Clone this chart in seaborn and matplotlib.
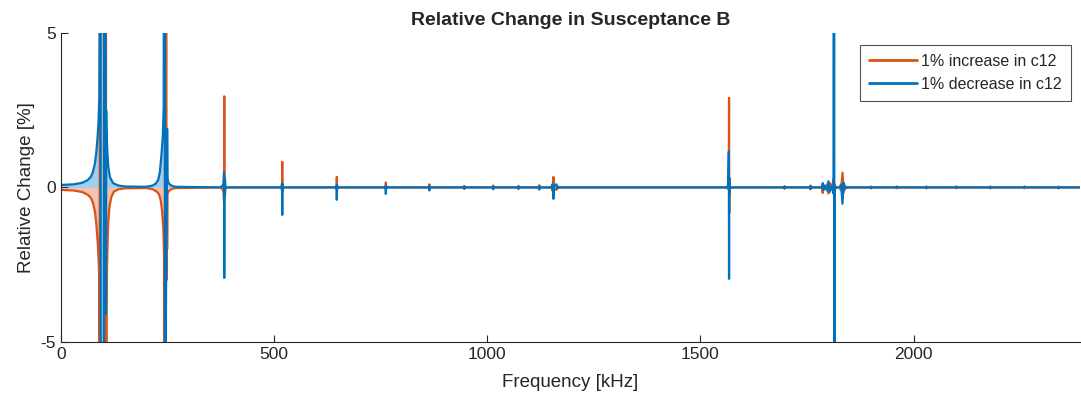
import numpy as np
import pandas as pd
import matplotlib
matplotlib.use("Agg")
import matplotlib.pyplot as plt
import seaborn as sns

# Relative change of susceptance B [%] versus frequency [kHz]
# 1% increase in c12
inc_freq = [0, 30, 50, 63, 70, 75, 80, 83, 86, 88.5, 89.5, 90.2, 90.8, 91.1, 93, 96, 98.5, 105.5, 105.8, 107, 108, 109.5,
            111, 114, 118, 124, 135, 150,
            200, 215, 225, 230, 234, 237, 240, 242, 243.8, 244.2, 246.5, 247.5, 248.5, 249, 250, 253, 256, 262, 270,
            375, 381, 382.5, 383, 383.5, 384.5, 386,
            517, 518.5, 519, 519.5, 521,
            645, 646.5, 647, 647.5, 649,
            760, 761.5, 762, 762.5, 764,
            862, 863.5, 864, 864.5, 866,
            944, 945.5, 946, 946.5, 948,
            1012, 1013.5, 1014, 1014.5, 1016,
            1071, 1072.5, 1073, 1073.5, 1075,
            1120, 1121.5, 1122, 1122.5, 1124,
            1150, 1153, 1155, 1157, 1162, 1165, 1168,
            1560, 1565, 1566.5, 1567, 1567.5, 1568, 1568.5, 1570, 1575,
            1695, 1696.5, 1697, 1697.5, 1699,
            1756, 1757.5, 1758, 1758.5, 1760,
            1784, 1787, 1789, 1792, 1797, 1800, 1803, 1808, 1812, 1813, 1814, 1815, 1817,
            1826, 1830, 1833, 1836, 1840, 1845,
            1898, 1900, 1902, 1958, 1960, 1962, 2028, 2030, 2032, 2098, 2100, 2102,
            2178, 2180, 2182, 2258, 2260, 2262, 2338, 2340, 2342, 2390]
inc_val = [-0.08, -0.1, -0.15, -0.24, -0.34, -0.5, -0.8, -1.2, -1.75, -2.4, -2.8, -8, -60, 60, 8, 5.5, 8, 60, -60, -4, -2.6, -1.7,
           -1.1, -0.6, -0.32, -0.14, -0.06, -0.03,
           -0.02, -0.06, -0.14, -0.22, -0.42, -0.75, -1.3, -2.3, -60, 60, 60, -3, -0.5, -2.0, -0.2, -0.12, -0.08, -0.04, -0.02,
           0, -0.1, -0.46, 2.95, 0.2, -0.3, 0,
           0, -0.1, 0.83, -0.15, 0,
           0, -0.06, 0.34, -0.08, 0,
           0, -0.04, 0.16, -0.05, 0,
           0, -0.03, 0.1, -0.03, 0,
           0, -0.02, 0.05, -0.02, 0,
           0, -0.02, 0.06, -0.02, 0,
           0, -0.02, 0.05, -0.02, 0,
           0, -0.03, 0.07, -0.03, 0,
           0, -0.1, 0.34, -0.05, -0.08, 0.03, 0,
           0, -0.05, 0.76, 2.9, -0.82, 0.3, -0.1, 0.02, 0,
           0, -0.02, 0.04, -0.02, 0,
           0, -0.03, 0.06, -0.03, 0,
           0, -0.18, 0.08, -0.05, 0.1, -0.2, 0.15, -0.05, 0.27, -0.15, -0.1, 0.1, 0,
           0, -0.1, 0.48, -0.15, 0.03, 0,
           0, 0.03, 0, 0, -0.03, 0, 0, 0.03, 0, 0, -0.03, 0,
           0, 0.03, 0, 0, -0.03, 0, 0, 0.03, 0, 0]

# 1% decrease in c12
dec_freq = [0, 30, 50, 63, 70, 75, 80, 83, 86, 88, 90, 92, 93, 93.3, 95, 97, 99, 100.5, 100.8, 103, 105, 105.5, 106, 107,
            109, 111, 115, 122, 135, 150,
            200, 215, 222, 228, 232, 236, 239, 241, 243.5, 244.2, 245.5, 247, 248.5, 249, 250, 252, 255, 262, 270,
            375, 381, 382.5, 383, 383.5, 384.5, 386,
            517, 518.5, 519, 519.5, 521,
            645, 646.5, 647, 647.5, 649,
            760, 761.5, 762, 762.5, 764,
            862, 863.5, 864, 864.5, 866,
            944, 945.5, 946, 946.5, 948,
            1012, 1013.5, 1014, 1014.5, 1016,
            1071, 1072.5, 1073, 1073.5, 1075,
            1120, 1121.5, 1122, 1122.5, 1124,
            1150, 1153, 1155, 1157, 1162, 1165, 1168,
            1560, 1565, 1566.5, 1567, 1567.5, 1568, 1568.5, 1570, 1575,
            1695, 1696.5, 1697, 1697.5, 1699,
            1756, 1757.5, 1758, 1758.5, 1760,
            1784, 1787, 1789, 1792, 1797, 1800, 1803, 1808, 1812, 1813.7, 1814, 1815, 1817,
            1826, 1830, 1833, 1836, 1840, 1845,
            1898, 1900, 1902, 1958, 1960, 1962, 2028, 2030, 2032, 2098, 2100, 2102,
            2178, 2180, 2182, 2258, 2260, 2262, 2338, 2340, 2342, 2390]
dec_val = [0.08, 0.1, 0.15, 0.24, 0.34, 0.5, 0.8, 1.15, 1.65, 2.1, 2.9, 8, 60, -60, -8, -5.5, -8, -60, 60, 8, 3.9, -4.1, 2.5, 1.75,
           1.1, 0.67, 0.33, 0.14, 0.06, 0.03,
           0.02, 0.06, 0.12, 0.24, 0.5, 1.1, 1.7, 2.6, 60, -60, -6, -2, 0.3, 1.9, 0.3, 0.15, 0.1, 0.04, 0.02,
           0, 0.1, 0.5, -2.93, -0.2, 0.3, 0,
           0, 0.12, -0.89, 0.12, 0,
           0, 0.06, -0.4, 0.08, 0,
           0, 0.04, -0.21, 0.05, 0,
           0, 0.03, -0.1, 0.03, 0,
           0, 0.02, -0.05, 0.02, 0,
           0, 0.02, -0.06, 0.02, 0,
           0, 0.02, -0.05, 0.02, 0,
           0, 0.03, -0.07, 0.03, 0,
           0, 0.1, -0.37, 0.05, 0.1, -0.03, 0,
           0, 0.05, 1.16, -2.96, 0.3, -0.2, 0.08, -0.02, 0,
           0, 0.02, -0.04, 0.02, 0,
           0, 0.03, -0.06, 0.03, 0,
           0, 0.14, -0.08, 0.05, -0.1, 0.2, -0.15, 0.05, -0.2, 60, -60, -0.1, 0,
           0, 0.1, -0.53, 0.15, -0.03, 0,
           0, -0.03, 0, 0, 0.03, 0, 0, -0.03, 0, 0, 0.03, 0,
           0, -0.03, 0, 0, 0.03, 0, 0, -0.03, 0, 0]

series_names = ["1% increase in c12", "1% decrease in c12"]
series_colors = ["#D95319", "#0072BD"]
x_ticks = [0, 500, 1000, 1500, 2000]
y_ticks = [-5, 0, 5]

df = pd.concat([
    pd.DataFrame({"Frequency": inc_freq, "Change": inc_val, "Series": series_names[0]}),
    pd.DataFrame({"Frequency": dec_freq, "Change": dec_val, "Series": series_names[1]}),
], ignore_index=True)

sns.set_theme(style="white")
plt.rcParams["font.family"] = ["Liberation Sans", "DejaVu Sans"]
plt.rcParams["axes.unicode_minus"] = False

fig = plt.figure(figsize=(10.81, 4.05), dpi=100)
ax = fig.add_axes([0.0564, 0.156, 0.9426, 0.7625])

# shaded area between each curve and zero
for name, col in zip(series_names, series_colors):
    sub = df[df["Series"] == name]
    ax.fill_between(sub["Frequency"], np.clip(sub["Change"], -5.5, 5.5), 0,
                    color=col, alpha=0.35, lw=0)

sns.lineplot(data=df, x="Frequency", y="Change", hue="Series",
             hue_order=series_names, palette=series_colors,
             estimator=None, sort=False, lw=1.6, ax=ax)

ax.set_xlim(0, 2390)
ax.set_ylim(-5, 5)
ax.set_xticks(x_ticks)
ax.set_yticks(y_ticks)
ax.set_xlabel("Frequency [kHz]", fontsize=13.5, color="#262626", labelpad=9)
ax.set_ylabel("Relative Change [%]", fontsize=13.5, color="#262626", labelpad=4)
ax.set_title("Relative Change in Susceptance B", fontsize=14, fontweight="bold", pad=6)

for side in ["top", "right"]:
    ax.spines[side].set_visible(False)
for side in ["left", "bottom"]:
    ax.spines[side].set_color("#262626")
    ax.spines[side].set_linewidth(0.8)
ax.tick_params(axis="both", direction="in", length=5, width=0.8, colors="#262626",
               labelsize=12.5, bottom=True, left=True)

leg = ax.legend(loc="upper right", bbox_to_anchor=(0.991, 0.961), borderaxespad=0,
                fontsize=11.5, frameon=True, fancybox=False, edgecolor="#262626",
                handlelength=3.0, handletextpad=0.3, borderpad=0.55, labelspacing=0.5)
leg.get_frame().set_linewidth(0.8)
for line in leg.get_lines():
    line.set_linewidth(2)

fig.savefig("out.png", dpi=100)
